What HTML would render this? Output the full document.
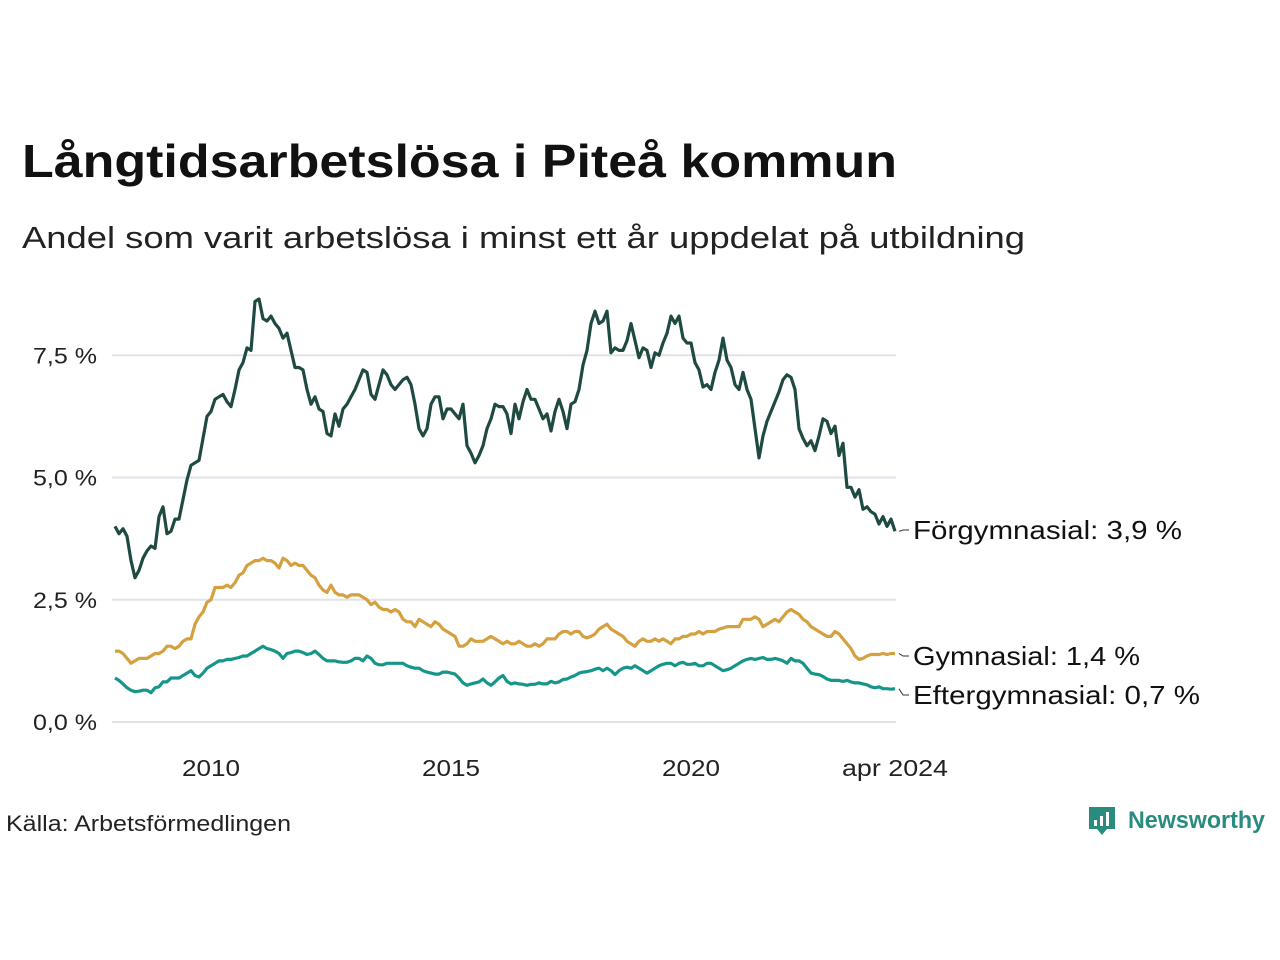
<!DOCTYPE html>
<html><head><meta charset="utf-8"><style>
body{margin:0;background:#fff;font-family:"Liberation Sans","DejaVu Sans",sans-serif;}
#wrap{position:relative;width:1280px;height:960px;overflow:hidden;}
</style></head><body>
<div id="wrap">
<svg id="chart" width="1280" height="960" xmlns="http://www.w3.org/2000/svg" font-family="Liberation Sans, DejaVu Sans, sans-serif">
<text x="22" y="177" font-size="46" font-weight="bold" fill="#111" textLength="875" lengthAdjust="spacingAndGlyphs">Långtidsarbetslösa i Piteå kommun</text>
<text x="22" y="248" font-size="31" fill="#222" textLength="1003" lengthAdjust="spacingAndGlyphs">Andel som varit arbetslösa i minst ett år uppdelat på utbildning</text>
<g id="grid"></g><g id="yticks"></g><g id="xticks"></g><g id="lines"></g><g id="labels"></g>
<text x="6" y="831" font-size="22" fill="#222" textLength="285" lengthAdjust="spacingAndGlyphs">Källa: Arbetsförmedlingen</text>
<g>
<path d="M1089 807 h26 v22 h-8 l-5 6 l-5 -6 h-8 z" fill="#2a8c7e"/>
<rect x="1094" y="820" width="3" height="6" fill="#fff"/><rect x="1100" y="816" width="3" height="10" fill="#fff"/><rect x="1106" y="812" width="3" height="14" fill="#fff"/>
<text x="1128" y="828" font-size="24" font-weight="bold" fill="#2a8c7e" textLength="137" lengthAdjust="spacingAndGlyphs">Newsworthy</text>
</g>
</svg>
</div>
<script>
const startYear = 2008;
const yTicks = [0, 2.5, 5, 7.5];
const yTickLabels = ["0,0 %", "2,5 %", "5,0 %", "7,5 %"];
const xTicks = [2010, 2015, 2020];
const xTickLabels = ["2010", "2015", "2020"];
const seriesNames = ["Förgymnasial", "Gymnasial", "Eftergymnasial"];
const forgymnasial = [4.0,3.85,3.95,3.8,3.3,2.95,3.1,3.35,3.5,3.6,3.55,4.2,
4.4,3.85,3.9,4.15,4.15,4.55,4.95,5.25,5.3,5.35,5.8,6.25,
6.35,6.6,6.65,6.7,6.55,6.45,6.8,7.2,7.35,7.65,7.6,8.6,
8.65,8.25,8.2,8.3,8.15,8.05,7.85,7.95,7.6,7.25,7.25,7.2,
6.8,6.5,6.65,6.4,6.35,5.9,5.85,6.3,6.05,6.4,6.5,6.65,
6.8,7.0,7.2,7.15,6.7,6.6,6.9,7.2,7.1,6.9,6.8,6.9,
7.0,7.05,6.9,6.5,6.0,5.85,6.0,6.5,6.65,6.65,6.2,6.4,
6.4,6.3,6.2,6.5,5.65,5.5,5.3,5.45,5.65,6.0,6.2,6.5,
6.45,6.45,6.3,5.9,6.5,6.2,6.55,6.8,6.6,6.6,6.4,6.2,
6.3,5.95,6.35,6.6,6.35,6.0,6.5,6.55,6.8,7.3,7.6,8.15,
8.4,8.15,8.2,8.4,7.55,7.65,7.6,7.6,7.8,8.15,7.8,7.45,
7.65,7.6,7.25,7.55,7.5,7.75,7.95,8.3,8.15,8.3,7.85,7.75,
7.75,7.35,7.2,6.85,6.9,6.8,7.15,7.4,7.85,7.4,7.25,6.9,
6.8,7.15,6.8,6.6,6.0,5.4,5.85,6.15,6.35,6.55,6.75,7.0,
7.1,7.05,6.8,6.0,5.8,5.65,5.75,5.55,5.85,6.2,6.15,5.9,
6.05,5.45,5.7,4.8,4.8,4.6,4.75,4.35,4.4,4.3,4.25,4.05,
4.2,4.0,4.15,3.9];
const gymnasial = [1.45,1.45,1.4,1.3,1.2,1.25,1.3,1.3,1.3,1.35,1.4,1.4,
1.45,1.55,1.55,1.5,1.55,1.65,1.7,1.7,2.0,2.15,2.25,2.45,
2.5,2.75,2.75,2.75,2.8,2.75,2.85,3.0,3.05,3.2,3.25,3.3,
3.3,3.35,3.3,3.3,3.25,3.15,3.35,3.3,3.2,3.25,3.2,3.2,
3.1,3.0,2.95,2.8,2.7,2.65,2.8,2.65,2.6,2.6,2.55,2.6,
2.6,2.6,2.55,2.5,2.4,2.45,2.35,2.3,2.3,2.25,2.3,2.25,
2.1,2.05,2.05,1.95,2.1,2.05,2.0,1.95,2.05,2.0,1.9,1.85,
1.8,1.75,1.55,1.55,1.6,1.7,1.65,1.65,1.65,1.7,1.75,1.7,
1.65,1.6,1.65,1.6,1.6,1.65,1.6,1.55,1.55,1.6,1.55,1.6,
1.7,1.7,1.7,1.8,1.85,1.85,1.8,1.85,1.85,1.75,1.72,1.75,
1.8,1.9,1.95,2.0,1.9,1.85,1.8,1.75,1.65,1.6,1.55,1.65,
1.7,1.65,1.65,1.7,1.65,1.7,1.65,1.6,1.7,1.7,1.75,1.75,
1.8,1.8,1.85,1.8,1.85,1.85,1.85,1.9,1.92,1.95,1.95,1.95,
1.95,2.1,2.1,2.1,2.15,2.1,1.95,2.0,2.05,2.1,2.05,2.15,
2.25,2.3,2.25,2.2,2.1,2.05,1.95,1.9,1.85,1.8,1.75,1.75,
1.85,1.8,1.7,1.6,1.5,1.35,1.28,1.3,1.35,1.38,1.38,1.38,
1.4,1.38,1.4,1.4];
const eftergymnasial = [0.9,0.85,0.78,0.7,0.65,0.62,0.63,0.65,0.65,0.6,0.7,0.72,
0.82,0.82,0.9,0.9,0.9,0.95,1.0,1.05,0.95,0.92,1.0,1.1,
1.15,1.2,1.25,1.25,1.28,1.28,1.3,1.32,1.35,1.35,1.4,1.45,
1.5,1.55,1.5,1.48,1.45,1.4,1.3,1.4,1.42,1.45,1.45,1.42,
1.38,1.4,1.45,1.38,1.3,1.25,1.25,1.25,1.23,1.22,1.22,1.25,
1.3,1.3,1.25,1.35,1.3,1.2,1.17,1.17,1.2,1.2,1.2,1.2,
1.2,1.15,1.12,1.1,1.1,1.05,1.02,1.0,0.98,0.98,1.02,1.02,
1.0,0.98,0.9,0.8,0.75,0.78,0.8,0.82,0.88,0.8,0.75,0.82,
0.9,0.95,0.83,0.78,0.8,0.78,0.77,0.75,0.77,0.77,0.8,0.78,
0.78,0.83,0.8,0.82,0.87,0.88,0.92,0.95,1.0,1.02,1.03,1.05,
1.08,1.1,1.05,1.1,1.05,0.97,1.05,1.1,1.12,1.1,1.15,1.1,
1.05,1.0,1.05,1.1,1.15,1.18,1.2,1.2,1.15,1.2,1.22,1.18,
1.18,1.2,1.15,1.15,1.2,1.2,1.15,1.1,1.05,1.07,1.1,1.15,
1.2,1.25,1.28,1.3,1.28,1.3,1.32,1.28,1.28,1.3,1.28,1.25,
1.2,1.3,1.25,1.25,1.2,1.1,1.0,0.98,0.97,0.93,0.88,0.85,
0.85,0.85,0.83,0.85,0.82,0.8,0.8,0.78,0.76,0.72,0.7,0.72,
0.68,0.68,0.67,0.68];
const endLabels = ["Förgymnasial: 3,9 %", "Gymnasial: 1,4 %", "Eftergymnasial: 0,7 %"];

const NS = "http://www.w3.org/2000/svg";
const x0 = 115, pxPerMonth = 4.0;
function xm(i){ return x0 + i*pxPerMonth; }
function xYear(y){ return x0 + (y-startYear)*12*pxPerMonth; }
function yv(v){ return 722 - v*48.9; }
function mk(tag, attrs, parent){ const e=document.createElementNS(NS,tag); for(const k in attrs) e.setAttribute(k,attrs[k]); parent.appendChild(e); return e; }

const grid=document.getElementById('grid'), yt=document.getElementById('yticks'), xt=document.getElementById('xticks');
yTicks.forEach((v,i)=>{
  const l=mk('line',{x1:112,x2:896,y1:yv(v),y2:yv(v),stroke:'#e2e2e8','stroke-width':2},grid);
  
  
  const t=mk('text',{x:97,y:yv(v)+8,'text-anchor':'end','font-size':22,fill:'#222',textLength:64,lengthAdjust:'spacingAndGlyphs'},yt);
  t.textContent=yTickLabels[i];
  
  
});
xTicks.forEach((y,i)=>{
  const t=mk('text',{x:xYear(y),y:776,'text-anchor':'middle','font-size':23,fill:'#222',textLength:58,lengthAdjust:'spacingAndGlyphs'},xt);
  t.textContent=xTickLabels[i];
  
  
});
const lastT=mk('text',{x:xm(forgymnasial.length-1),y:776,'text-anchor':'middle','font-size':23,fill:'#222',textLength:106,lengthAdjust:'spacingAndGlyphs'},xt);
lastT.textContent='apr 2024';



const series=[forgymnasial,gymnasial,eftergymnasial];
const colors=['#1f4a42','#d4a040','#16968a'];
const labelY=[530,656,695];
const labelW=[269,227,287];
const lg=document.getElementById('lines'), lb=document.getElementById('labels');
[2,1,0].forEach(s=>{
  const d=series[s].map((v,i)=>(i?'L':'M')+xm(i).toFixed(1)+' '+yv(v).toFixed(1)).join(' ');
  const p=mk('path',{d:d,fill:'none',stroke:colors[s],'stroke-width':3.2,'stroke-linejoin':'round'},lg);
  
  
  const last=series[s][series[s].length-1];
  const ex=xm(series[s].length-1);
  const c=mk('polyline',{points:(ex+4)+','+yv(last)+' '+(ex+8)+','+labelY[s]+' '+(ex+14)+','+labelY[s],fill:'none',stroke:'#333','stroke-width':1},lb);
  
  
  const t=mk('text',{x:ex+18,y:labelY[s]+9,'font-size':26,fill:'#111',textLength:labelW[s],lengthAdjust:'spacingAndGlyphs'},lb);
  t.textContent=endLabels[s];
  
  
});
</script>
</body></html>
